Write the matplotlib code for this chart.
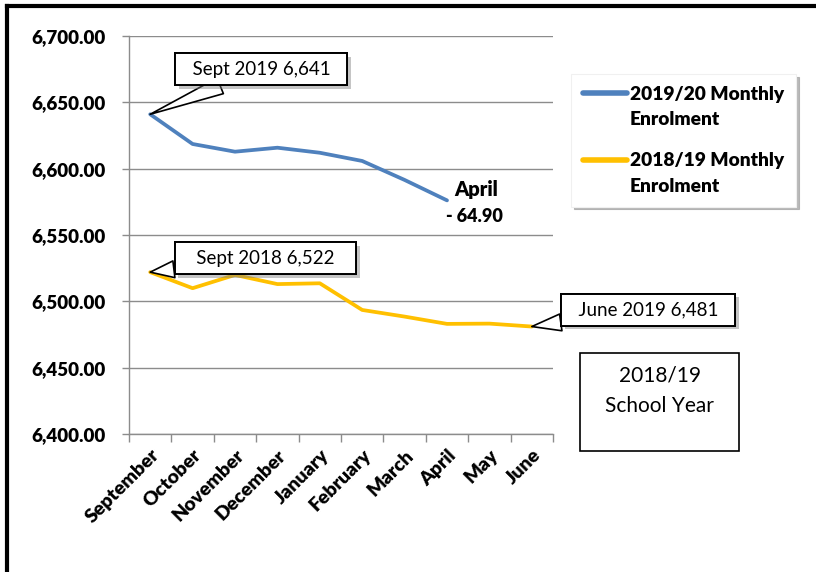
import matplotlib
matplotlib.use("Agg")
import matplotlib.pyplot as plt
from matplotlib.lines import Line2D
from matplotlib.patches import Rectangle
from matplotlib import patheffects as pe

months = ["September", "October", "November", "December", "January",
          "February", "March", "April", "May", "June"]
enrol_1920 = [6641, 6618.6, 6612.8, 6615.8, 6612.0, 6605.8, 6591.5, 6576.1]
enrol_1819 = [6522, 6509.9, 6519.9, 6513.0, 6513.6, 6493.5, 6488.5, 6483.0, 6483.2, 6481]
y_ticks = [6400, 6450, 6500, 6550, 6600, 6650, 6700]
label_1920 = "2019/20 Monthly\nEnrolment"
label_1819 = "2018/19 Monthly\nEnrolment"
april_change = -64.90

plt.rcParams['font.family'] = ['Lato', 'DejaVu Sans']
BOLD = 'heavy'

W, H = 816, 572
fig = plt.figure(figsize=(W / 100, H / 100), dpi=100)
ax = fig.add_axes([129 / W, 1 - 434 / H, (553 - 129) / W, (434 - 36) / H])

x1920 = list(range(len(enrol_1920)))
x1819 = list(range(len(enrol_1819)))
blue, gold = "#4F81BD", "#FFC000"
l1, = ax.plot(x1920, enrol_1920, color=blue, lw=2.7, solid_joinstyle='round', solid_capstyle='round', zorder=3)
l2, = ax.plot(x1819, enrol_1819, color=gold, lw=2.7, solid_joinstyle='round', solid_capstyle='round', zorder=3)

ax.set_xlim(-0.5, len(months) - 0.5)
ax.set_ylim(y_ticks[0], y_ticks[-1])
ax.tick_params(axis='x', which='major', length=0, pad=9)
ax.tick_params(axis='x', which='minor', length=6, color='#8c8c8c', width=1)
ax.tick_params(axis='y', length=5, color='#8c8c8c', width=1, pad=12)
ax.set_yticks(y_ticks)
ax.set_yticklabels([f"{v:,.2f}" for v in y_ticks], fontsize=13.5, fontweight=BOLD)
ax.grid(axis='y', color='#8c8c8c', lw=1)
ax.set_axisbelow(True)
for s in ['top', 'right']:
    ax.spines[s].set_visible(False)
for s in ['left', 'bottom']:
    ax.spines[s].set_color('#8c8c8c')
    ax.spines[s].set_linewidth(1)

ax.set_xticks(range(len(months)))
ax.set_xticklabels(months, rotation=45, ha='right', rotation_mode='anchor',
                   fontsize=14, fontweight=BOLD)
ax.set_xticks([i - 0.5 for i in range(len(months) + 1)], minor=True)

shadow = [pe.withSimplePatchShadow(offset=(2.5, -2.5), shadow_rgbFace='#808080', alpha=0.45), pe.Normal()]

# callouts
def callout(xy, offset, text, spaces):
    pad = " " * spaces
    a = ax.annotate(pad + text + pad, xy=xy, xytext=offset, textcoords='offset points',
                    fontsize=13.5, ha='center', va='center', zorder=6,
                    bbox=dict(boxstyle='square,pad=0.4', fc='white', ec='black', lw=1.4),
                    arrowprops=dict(arrowstyle='wedge,tail_width=0.9,shrink_factor=0.5',
                                    fc='white', ec='black', lw=1.2,
                                    shrinkA=0, shrinkB=0))
    a.get_bbox_patch().set_path_effects(shadow)
    return a

callout((0, enrol_1920[0]), (80, 32.5), f"Sept 2019 {enrol_1920[0]:,.0f}", 2)
callout((0, enrol_1819[0]), (83, 10), f"Sept 2018 {enrol_1819[0]:,.0f}", 3)
callout((len(enrol_1819) - 1, enrol_1819[-1]), (84, 12), f"June 2019 {enrol_1819[-1]:,.0f}", 2)

# April label
ax.annotate("April", xy=(len(enrol_1920) - 1, enrol_1920[-1]), xytext=(21, 7.5),
            textcoords='offset points', fontsize=14.5, fontweight=BOLD,
            ha='center', va='center', annotation_clip=False)
ax.annotate(f"- {abs(april_change):.2f}", xy=(len(enrol_1920) - 1, enrol_1920[-1]), xytext=(20, -11.5),
            textcoords='offset points', fontsize=13, fontweight=BOLD,
            ha='center', va='center', annotation_clip=False)

# legend
leg = fig.legend([l1, l2], [label_1920, label_1819], loc='upper left',
                 bbox_to_anchor=(571 / W, 1 - 74 / H), frameon=True, fancybox=False,
                 shadow=dict(color='#a8a8a8', alpha=0.8), handlelength=2.3, handletextpad=0.15,
                 labelspacing=1.25, borderpad=0.62, borderaxespad=0,
                 prop=dict(size=13.8, weight=BOLD))
leg.get_frame().set_edgecolor('#f0f0f0')
leg.get_frame().set_linewidth(0.8)
for t in leg.get_texts():
    t.set_linespacing(1.6)
for h in leg.get_lines():
    h.set_linewidth(4)
    yd = h.get_ydata()
    h.set_ydata([v + 10 for v in yd])

# school year box
fig.add_artist(Rectangle((580 / W, 1 - 451 / H), 159 / W, 98 / H, transform=fig.transFigure,
                         fc='white', ec='black', lw=1.2))
fig.text(659.5 / W, 1 - 391 / H, "2018/19\nSchool Year", ha='center', va='center',
         fontsize=15, linespacing=1.65)

# figure frame (top and left)
fig.add_artist(Line2D([7 / W, 7 / W], [0, 1 - 6 / H], transform=fig.transFigure, color='black', lw=3))
fig.add_artist(Line2D([7 / W, 1], [1 - 6 / H, 1 - 6 / H], transform=fig.transFigure, color='black', lw=3))

fig.savefig("out.png", dpi=100)
